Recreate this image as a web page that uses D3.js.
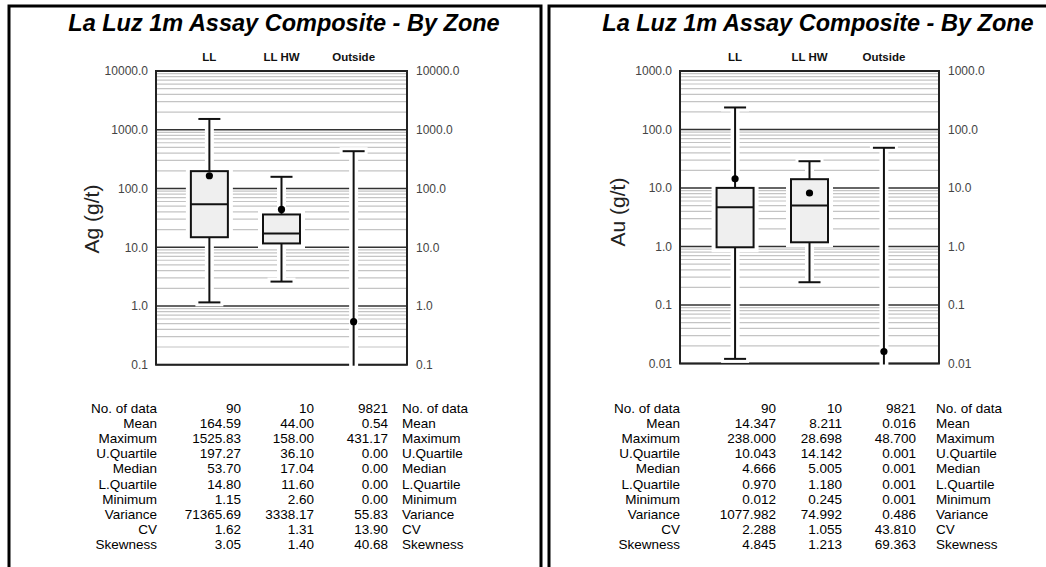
<!DOCTYPE html>
<html>
<head>
<meta charset="utf-8">
<script src="https://cdn.jsdelivr.net/npm/d3@7"></script>
<style>
  html, body { margin: 0; padding: 0; background: #fff; }
  svg { display: block; font-family: "Liberation Sans", Arial, sans-serif; }
</style>
</head>
<body>
<svg id="chart" width="1046" height="567"></svg>
<script>
// ---- Zones ----
const zones = ["LL", "LL HW", "Outside"];
const counts = [90, 10, 9821];

// ---- Silver (Ag g/t) statistics per zone ----
const agMean = [164.59, 44.00, 0.54];
const agMax = [1525.83, 158.00, 431.17];
const agUQ = [197.27, 36.10, 0.00];
const agMedian = [53.70, 17.04, 0.00];
const agLQ = [14.80, 11.60, 0.00];
const agMin = [1.15, 2.60, 0.00];
const agVariance = [71365.69, 3338.17, 55.83];
const agCV = [1.62, 1.31, 13.90];
const agSkew = [3.05, 1.40, 40.68];

// ---- Gold (Au g/t) statistics per zone ----
const auMean = [14.347, 8.211, 0.016];
const auMax = [238.000, 28.698, 48.700];
const auUQ = [10.043, 14.142, 0.001];
const auMedian = [4.666, 5.005, 0.001];
const auLQ = [0.970, 1.180, 0.001];
const auMin = [0.012, 0.245, 0.001];
const auVariance = [1077.982, 74.992, 0.486];
const auCV = [2.288, 1.055, 43.810];
const auSkew = [4.845, 1.213, 69.363];

// ---- Axis tick labels ----
const agTickValues = [0.1, 1, 10, 100, 1000, 10000];
const agTickLabels = ["0.1", "1.0", "10.0", "100.0", "1000.0", "10000.0"];
const auTickValues = [0.01, 0.1, 1, 10, 100, 1000];
const auTickLabels = ["0.01", "0.1", "1.0", "10.0", "100.0", "1000.0"];

// ---- Statistics table row labels ----
const statLabels = ["No. of data", "Mean", "Maximum", "U.Quartile", "Median",
  "L.Quartile", "Minimum", "Variance", "CV", "Skewness"];

const titleText = "La Luz 1m Assay Composite - By Zone";

const svg = d3.select("#chart");

function drawPanel(cfg) {
  const g = svg.append("g");

  // panel frame (continues past the bottom / right edge)
  const fr = cfg.frame;
  g.append("path")
    .attr("d", `M${fr.x0},600 V${fr.y} H${fr.x1} V600`)
    .attr("fill", "none").attr("stroke", "#000").attr("stroke-width", 3);

  // title
  g.append("text")
    .attr("x", cfg.titleX).attr("y", 31)
    .attr("text-anchor", "middle")
    .attr("font-size", 23.5).attr("font-weight", "bold").attr("font-style", "italic")
    .attr("fill", "#000")
    .text(titleText);

  const x = d3.scalePoint().domain(zones).range([cfg.left, cfg.right]).padding(cfg.pad);
  const y = d3.scaleLog().domain(cfg.domain).range([cfg.bottom, cfg.top]);
  const lo = cfg.domain[0], hi = cfg.domain[1];
  const yc = v => (v <= lo ? cfg.bottom : y(Math.min(v, hi)));

  // zone headers
  g.selectAll("text.zone").data(zones).join("text")
    .attr("class", "zone")
    .attr("x", d => x(d)).attr("y", 61)
    .attr("text-anchor", "middle")
    .attr("font-size", 11.5).attr("font-weight", "bold").attr("fill", "#111")
    .text(d => d);

  // minor gridlines (2..9 within each decade)
  const minor = [];
  for (let e = Math.log10(lo); e < Math.log10(hi); e++) {
    for (let k = 2; k <= 9; k++) minor.push(k * Math.pow(10, e));
  }
  g.selectAll("line.minor").data(minor).join("line")
    .attr("class", "minor")
    .attr("x1", cfg.left).attr("x2", cfg.right)
    .attr("y1", d => y(d)).attr("y2", d => y(d))
    .attr("stroke", "#c4c4c4").attr("stroke-width", 1.2);

  // major gridlines at decades
  g.selectAll("line.major").data(cfg.tickValues).join("line")
    .attr("class", "major")
    .attr("x1", cfg.left).attr("x2", cfg.right)
    .attr("y1", d => y(d)).attr("y2", d => y(d))
    .attr("stroke", "#333").attr("stroke-width", 1.6);

  // plot frame
  g.append("rect")
    .attr("x", cfg.left).attr("y", cfg.top)
    .attr("width", cfg.right - cfg.left).attr("height", cfg.bottom - cfg.top)
    .attr("fill", "none").attr("stroke", "#222").attr("stroke-width", 2);

  // axes (labels only)
  const fmt = d => cfg.tickLabels[cfg.tickValues.indexOf(d)];
  const axL = g.append("g").attr("transform", `translate(${cfg.left},0)`)
    .call(d3.axisLeft(y).tickValues(cfg.tickValues).tickFormat(fmt).tickSize(0).tickPadding(8));
  const axR = g.append("g").attr("transform", `translate(${cfg.right},0)`)
    .call(d3.axisRight(y).tickValues(cfg.tickValues).tickFormat(fmt).tickSize(0).tickPadding(9));
  [axL, axR].forEach(a => {
    a.select(".domain").remove();
    a.selectAll("text").attr("font-size", 12).attr("fill", "#444")
      .attr("font-family", "'Liberation Sans', Arial, sans-serif");
  });

  // y-axis title
  g.append("text")
    .attr("transform", `translate(${cfg.ylabX},${cfg.ylabY}) rotate(-90)`)
    .attr("text-anchor", "middle")
    .attr("font-size", 21).attr("fill", "#222")
    .text(cfg.ylab);

  // box plot records
  const recs = zones.map((z, i) => ({
    z, mean: cfg.mean[i], max: cfg.max[i], uq: cfg.uq[i],
    med: cfg.med[i], lq: cfg.lq[i], min: cfg.min[i]
  }));
  const boxW = 37, capW = 22;
  const hasBox = d => d.uq > lo;
  const minBelow = d => d.min <= lo;

  // white halos that break the gridlines around the marks
  const halo = g.append("g");
  recs.forEach(d => {
    const cx = x(d.z);
    const yTop = yc(d.max), yBot = minBelow(d) ? cfg.bottom + 2 : yc(d.min);
    halo.append("line").attr("x1", cx).attr("x2", cx)
      .attr("y1", yTop).attr("y2", yBot)
      .attr("stroke", "#fff").attr("stroke-width", 9);
    halo.append("line").attr("x1", cx - capW / 2 - 3).attr("x2", cx + capW / 2 + 3)
      .attr("y1", yTop).attr("y2", yTop)
      .attr("stroke", "#fff").attr("stroke-width", 8);
    if (!minBelow(d)) {
      halo.append("line").attr("x1", cx - capW / 2 - 3).attr("x2", cx + capW / 2 + 3)
        .attr("y1", yBot).attr("y2", yBot)
        .attr("stroke", "#fff").attr("stroke-width", 8);
    }
    if (hasBox(d)) {
      const y1 = yc(d.uq), y2 = yc(d.lq);
      halo.append("rect").attr("x", cx - boxW / 2 - 5).attr("y", y1 - 5)
        .attr("width", boxW + 10).attr("height", y2 - y1 + 10)
        .attr("fill", "#fff");
    }
  });

  // whiskers, caps, boxes, medians, means
  const marks = g.append("g");
  recs.forEach(d => {
    const cx = x(d.z);
    const yTop = yc(d.max), yBot = minBelow(d) ? cfg.bottom + 1 : yc(d.min);
    marks.append("line").attr("x1", cx).attr("x2", cx)
      .attr("y1", yTop).attr("y2", yBot)
      .attr("stroke", "#111").attr("stroke-width", 2);
    marks.append("line").attr("x1", cx - capW / 2).attr("x2", cx + capW / 2)
      .attr("y1", yTop).attr("y2", yTop)
      .attr("stroke", "#111").attr("stroke-width", 2);
    if (!minBelow(d)) {
      marks.append("line").attr("x1", cx - capW / 2).attr("x2", cx + capW / 2)
        .attr("y1", yBot).attr("y2", yBot)
        .attr("stroke", "#111").attr("stroke-width", 2);
    }
    if (hasBox(d)) {
      const y1 = yc(d.uq), y2 = yc(d.lq);
      marks.append("rect").attr("x", cx - boxW / 2).attr("y", y1)
        .attr("width", boxW).attr("height", y2 - y1)
        .attr("fill", "#efefef").attr("stroke", "#111").attr("stroke-width", 2);
      marks.append("line").attr("x1", cx - boxW / 2).attr("x2", cx + boxW / 2)
        .attr("y1", yc(d.med)).attr("y2", yc(d.med))
        .attr("stroke", "#111").attr("stroke-width", 2);
    }
    if (d.mean > lo) {
      marks.append("circle").attr("cx", cx).attr("cy", yc(d.mean))
        .attr("r", 3.6).attr("fill", "#000");
    }
  });

  // statistics table
  const rows = [counts.map(String)].concat(
    [cfg.mean, cfg.max, cfg.uq, cfg.med, cfg.lq, cfg.min, cfg.variance, cfg.cv, cfg.skew]
      .map(arr => arr.map(v => d3.format(cfg.numFmt)(v)))
  );
  const t = g.append("g").attr("font-size", 13.5).attr("fill", "#000");
  statLabels.forEach((lab, r) => {
    const yy = cfg.tableY + r * cfg.rowH;
    t.append("text").attr("x", cfg.colLabelR).attr("y", yy)
      .attr("text-anchor", "end").text(lab);
    t.append("text").attr("x", cfg.colLabelL).attr("y", yy)
      .attr("text-anchor", "start").text(lab);
    rows[r].forEach((s, c) => {
      t.append("text").attr("x", cfg.cols[c]).attr("y", yy)
        .attr("text-anchor", "end").text(s);
    });
  });
}

drawPanel({
  frame: { x0: 9, x1: 541, y: 6 },
  titleX: 284,
  left: 156, right: 407, top: 71, bottom: 364.7, pad: 0.74,
  domain: [0.1, 10000],
  tickValues: agTickValues, tickLabels: agTickLabels,
  ylab: "Ag (g/t)", ylabX: 99, ylabY: 219,
  mean: agMean, max: agMax, uq: agUQ, med: agMedian, lq: agLQ, min: agMin,
  variance: agVariance, cv: agCV, skew: agSkew, numFmt: ".2f",
  tableY: 413, rowH: 15.1,
  colLabelR: 157, colLabelL: 402, cols: [241, 314, 388]
});

drawPanel({
  frame: { x0: 549, x1: 1060, y: 6 },
  titleX: 818,
  left: 680, right: 939, top: 71, bottom: 363.5, pad: 0.74,
  domain: [0.01, 1000],
  tickValues: auTickValues, tickLabels: auTickLabels,
  ylab: "Au (g/t)", ylabX: 625, ylabY: 212,
  mean: auMean, max: auMax, uq: auUQ, med: auMedian, lq: auLQ, min: auMin,
  variance: auVariance, cv: auCV, skew: auSkew, numFmt: ".3f",
  tableY: 413, rowH: 15.1,
  colLabelR: 680, colLabelL: 936, cols: [776, 842, 916]
});
</script>
</body>
</html>
